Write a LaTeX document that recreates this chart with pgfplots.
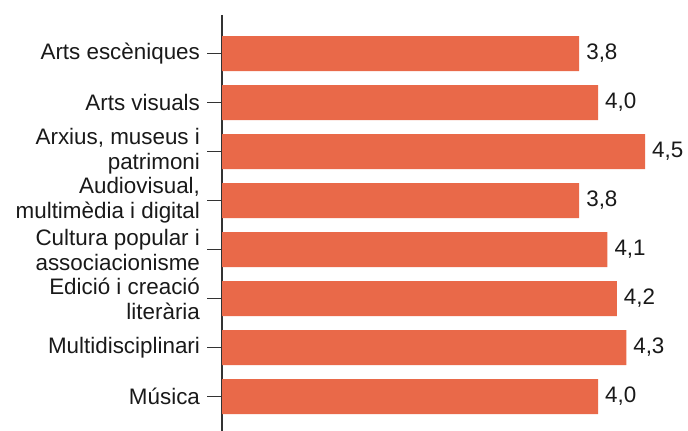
\documentclass[border=0pt]{standalone}
\usepackage{fontspec}
\setmainfont{Liberation Sans}
\usepackage{pgfplots}
\pgfplotsset{compat=1.18}
\definecolor{barc}{RGB}{233,105,73}
\definecolor{axc}{RGB}{51,51,51}
\definecolor{txt}{RGB}{25,25,25}
\begin{document}
\begin{tikzpicture}
\useasboundingbox (-111pt,0) rectangle (233pt,215.5pt);
\begin{axis}[
  at={(0,0)}, anchor=south west,
  scale only axis, width=233pt, height=208pt,
  xbar, bar width=17.5pt,
  xmin=0, xmax=4.957,
  ymin=-0.786, ymax=7.704, y dir=reverse,
  axis x line=none, axis y line*=left,
  y axis line style={axc, line width=0.75pt},
  ytick={0,1,2,3,4,5,6,7},
  yticklabels={Arts escèniques, Arts visuals, {Arxius, museus i\\patrimoni}, {Audiovisual,\\multimèdia i digital}, {Cultura popular i\\associacionisme}, {Edició i creació\\literària}, Multidisciplinari, Música},
  yticklabel style={align=right, font=\fontsize{11.2}{12.5}\selectfont, text=txt},
  ytick pos=left, tick align=outside, major tick length=7.5pt,
  ytick style={axc, line width=0.75pt},
  /pgf/number format/assume math mode=true,
  nodes near coords,
  nodes near coords align={horizontal},
  every node near coord/.append style={font=\fontsize{11.2}{12.5}\selectfont, text=txt, /pgf/number format/.cd, fixed, fixed zerofill, precision=1, use comma},
]
\addplot[fill=barc, draw=none] coordinates {(3.8,0) (4.0,1) (4.5,2) (3.8,3) (4.1,4) (4.2,5) (4.3,6) (4.0,7)};
\end{axis}
\end{tikzpicture}
\end{document}
